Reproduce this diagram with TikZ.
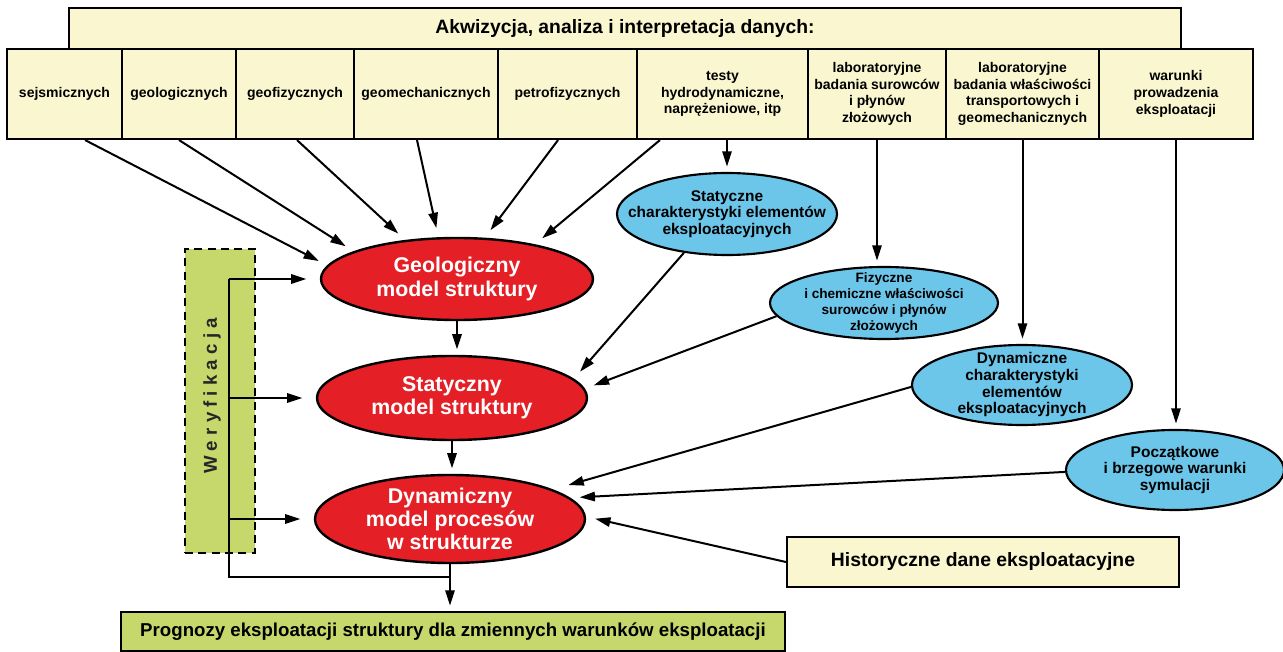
\documentclass[tikz,border=0pt]{standalone}
\usepackage{fontspec}
\setmainfont{Liberation Sans}
\usetikzlibrary{shapes.geometric,arrows.meta}
\definecolor{boxyellow}{RGB}{250,247,208}
\definecolor{modelred}{RGB}{228,32,38}
\definecolor{charblue}{RGB}{108,198,234}
\definecolor{verigreen}{RGB}{198,216,108}
\begin{document}
\begin{tikzpicture}[x=0.75pt,y=-0.75pt,
every node/.style={anchor=center,font=\bfseries},
databox/.style={%
draw,line width=1.6pt,fill=boxyellow,
minimum height=67.5pt,inner sep=0pt,align=center,
font=\bfseries\fontsize{10.5}{12.5}\selectfont
},
model/.style={%
ellipse,draw,line width=1.8pt,fill=modelred,text=white,
minimum width=202.5pt,minimum height=63pt,inner sep=-60pt,align=center,
font=\bfseries\fontsize{16}{17.5}\selectfont
},
chart/.style={%
ellipse,draw,line width=1.6pt,fill=charblue,
minimum width=165pt,minimum height=61pt,inner sep=-50pt,align=center,
font=\bfseries\fontsize{11.6}{12.5}\selectfont
},
arr/.style={-{Triangle[length=11.5pt,width=7pt]},line width=1.5pt,shorten >=4pt},
tomodel/.style={arr,shorten >=7pt}
]
\useasboundingbox(0,0)rectangle(1283,652);
\node[databox,minimum width=834pt,minimum height=30.75pt,font=\bfseries\fontsize{14.5}{16}\selectfont]at(625,28.5)(head){Akwizycja, analiza i interpretacja danych:};
\node[databox,minimum width=86.25pt]at(64.5,94)(sejs){sejsmicznych};
\node[databox,minimum width=85.5pt]at(179,94)(geol){geologicznych};
\node[databox,minimum width=88.5pt]at(295,94)(geof){geofizycznych};
\node[databox,minimum width=108pt]at(426,94)(geom){geomechanicznych};
\node[databox,minimum width=104.25pt]at(567.5,94)(petro){petrofizycznych};
\node[databox,minimum width=128.25pt]at(722.5,94)(testy){testy\\hydrodynamiczne,\\naprężeniowe, itp};
\node[databox,minimum width=103.5pt]at(877,94)(labs){laboratoryjne\\badania surowców\\i płynów\\złożowych};
\node[databox,minimum width=114.75pt]at(1022.5,94)(labw){laboratoryjne\\badania właściwości\\transportowych i\\geomechanicznych};
\node[databox,minimum width=115.5pt]at(1176,94)(war){warunki\\prowadzenia\\eksploatacji};
\node[draw,dashed,dash pattern=on 6pt off 4pt,line width=1.6pt,fill=verigreen,minimum width=52.5pt,minimum height=228pt]at(220,401)(wer){};
\node[rotate=90,font=\bfseries\fontsize{14}{16}\selectfont,text=black!85]at(212,396)(wert){W e r y f i k a c j a};
\node[model,minimum width=204pt,minimum height=61.5pt]at(457,279)(geo){Geologiczny\\model struktury};
\node[model]at(452,398)(stat){Statyczny\\model struktury};
\node[model,minimum height=66pt]at(450,519)(dyn){Dynamiczny\\model procesów\\w strukturze};
\node[chart,minimum height=61.5pt]at(727,214)(stch){Statyczne\\charakterystyki elementów\\eksploatacyjnych};
\node[chart,minimum width=171pt,minimum height=54pt,font=\bfseries\fontsize{10.2}{12}\selectfont]at(884,303)(fiz){Fizyczne\\i chemiczne właściwości\\surowców i płynów\\złożowych};
\node[chart,minimum height=60pt]at(1022,385)(dych){Dynamiczne\\charakterystyki\\elementów\\eksploatacyjnych};
\node[chart,minimum width=163.5pt,minimum height=60pt]at(1175,470)(pocz){Początkowe\\i brzegowe warunki\\symulacji};
\node[databox,minimum width=294pt,minimum height=37.5pt,font=\bfseries\fontsize{14.5}{16}\selectfont]at(983,562)(hist){Historyczne dane eksploatacyjne};
\node[databox,fill=verigreen,minimum width=498pt,minimum height=29.25pt,font=\bfseries\fontsize{14}{16}\selectfont]at(453,631.5)(prog){Prognozy eksploatacji struktury dla zmiennych warunków eksploatacji};
\draw[tomodel]([xshift=15.4pt]sejs.south)--(geo.174.6);
\draw[tomodel](geol.south)--(geo.165);
\draw[tomodel]([xshift=1.5pt]geof.south)--(geo.143.6);
\draw[tomodel]([xshift=-6.75pt]geom.south)--(geo.114);
\draw[tomodel]([xshift=-7.1pt]petro.south)--(geo.56.7);
\draw[tomodel]([xshift=-46.9pt]testy.south)--(geo.24);
\draw[arr](stch|-testy.south)--(stch.north);
\draw[arr](labs.south)--(labs.south|-fiz.north);
\draw[arr](labw.south)--(labw.south|-dych.north);
\draw[arr](war.south)--(war.south|-pocz.north);
\draw[tomodel](stch.222)--(stat.9);
\draw[tomodel](fiz.187)--(stat.4);
\draw[tomodel,shorten >=12pt](dych.181)--(dyn.16);
\draw[tomodel](pocz.181)--(dyn.10);
\draw[tomodel](hist.west)--(dyn.1);
\draw[arr](geo.south)--(geo.south|-stat.north);
\draw[arr](stat.south)--(stat.south|-dyn.north);
\coordinate(fb)at(229,577);
\draw[line width=1.5pt](dyn.south|-fb)--(fb)--(fb|-geo);
\draw[arr,shorten >=10pt](fb|-geo)--(geo.west);
\draw[arr,shorten >=10pt](fb|-stat)--(stat.west);
\draw[arr,shorten >=10pt](fb|-dyn)--(dyn.west);
\draw[arr](dyn.south)--(dyn.south|-prog.north);
\end{tikzpicture}
\end{document}
